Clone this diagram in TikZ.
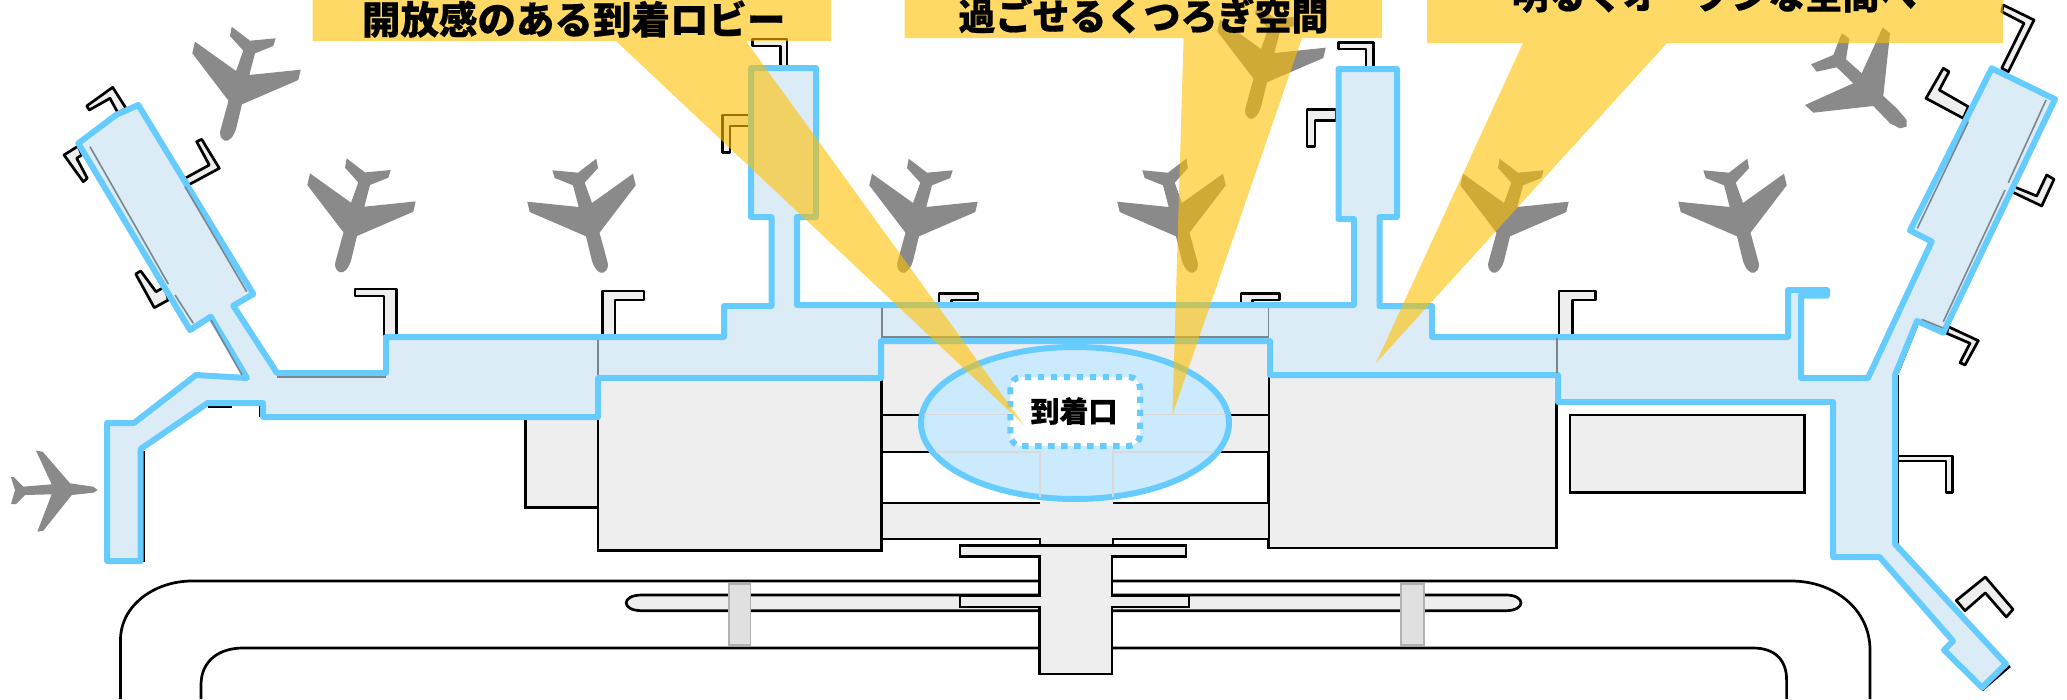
\documentclass[tikz,border=0pt]{standalone}
\usepackage{fontspec}
\newfontfamily\cjk[BoldFeatures={FakeBold=0.5}]{Noto Sans CJK JP}
\definecolor{bldg}{HTML}{EEEEEE}
\definecolor{bluestroke}{HTML}{66CCFF}
\definecolor{bluefill}{HTML}{DCECF7}
\definecolor{ellfill}{HTML}{CCEAFE}
\definecolor{planegray}{HTML}{8A8A8A}
\definecolor{gold}{HTML}{FFC000}
\definecolor{innerline}{HTML}{7C868C}
\newcommand{\planeoutline}{(1.2,48.3) .. controls (-1,56) and (-6,62.5) .. (-10.5,60.5) .. controls (-15,58.5) and (-15.5,53) .. (-14.5,50) -- (-6.5,20.7) -- (-42.7,-26.7) -- (-40,-38.3) -- (1,-9) -- (8.3,-29.3) -- (-5,-44) -- (-3.3,-53.3) -- (15,-39.3) -- (40.7,-41.7) -- (38.3,-34) -- (20,-26.7) -- (14.3,-5) -- (65.7,-10.3) -- (63.3,0) -- (7,24.3) -- cycle}
\tikzset{
  standbox/.style={draw=black,fill=bldg,line width=2.7pt,line join=round},
  bldgbox/.style={draw=black,fill=bldg,line width=2.7pt,line join=miter},
  blk/.style={draw=black,line width=2.7pt},
  roadline/.style={draw=black,line width=2.7pt},
  planeshape/.style={fill=planegray},
  pier/.style={draw=bluestroke,fill=bluefill,line width=6pt,line join=round},
  inner/.style={draw=innerline,line width=1.6pt},
  faint/.style={draw=black!15,line width=1.8pt},
  callout/.style={fill=gold,fill opacity=.6},
  bannertext/.style={font=\cjk\bfseries\fontsize{37}{37}\selectfont,text=black,anchor=base,inner sep=0pt},
}
\begin{document}
\begin{tikzpicture}[x=1pt,y=-1pt]
\useasboundingbox (0,0) rectangle (2067,699);
\clip (0,0) rectangle (2067,699);
% roads
\draw[roadline] (120.5,699) -- (120.5,640) .. controls (120.5,605) and (155,581) .. (192,581) -- (1791,581) .. controls (1835,581) and (1870,610) .. (1870,650) -- (1870,699);
\draw[roadline] (201,699) -- (201,685) .. controls (201,660) and (220,648) .. (243,648) -- (1753,648) .. controls (1775,648) and (1786.6,660) .. (1786.6,680) -- (1786.6,699);
% long strip
\draw[bldgbox] (641.7,595) -- (1506,595) .. controls (1526,595) and (1526,610.7) .. (1506,610.7) -- (641.7,610.7) .. controls (621,610.7) and (621,595) .. (641.7,595) -- cycle;
\draw[draw=black!30,fill=black!12,line width=1.3pt] (729,584) rectangle (750.7,645);
\draw[draw=black!30,fill=black!12,line width=1.3pt] (1401,584) rectangle (1424,645);
% buildings
\draw[bldgbox] (525.4,417) rectangle (598,507.6);
\draw[bldgbox] (598,378) rectangle (881.8,550.4);
\draw[bldgbox] (1268.4,377) rectangle (1556.7,548);
\draw[bldgbox] (1570,415) rectangle (1804.5,492.4);
\fill[bldg] (881.8,341) rectangle (1268.4,452);
\fill[bldg] (881.8,503) rectangle (1268.4,539);
\fill[bldg] (1040,452) rectangle (1113,545);
\draw[blk] (881.8,415) -- (1268.4,415);
\draw[blk] (881.8,452) -- (1268.4,452);
\draw[blk] (881.8,503) -- (1040,503);
\draw[blk] (1113,503) -- (1268.4,503);
\draw[blk] (881.8,539) -- (1040,539) -- (1040,546);
\draw[blk] (1268.4,539) -- (1113,539) -- (1113,546);
\draw[blk] (881.8,378) -- (881.8,550);
\draw[bldgbox] (960,545.5) -- (1186,545.5) -- (1186,556.7) -- (1112,556.7) -- (1112,596) -- (1189,596) -- (1189,607) -- (1112,607) -- (1112,674) -- (1039.4,674) -- (1039.4,607) -- (960,607) -- (960,596) -- (1039.4,596) -- (1039.4,556.7) -- (960,556.7) -- cycle;
% planes
\fill[planeshape,shift={(350,211.7)}] \planeoutline;
\fill[planeshape,shift={(235,80)}] \planeoutline;
\fill[planeshape,shift={(593,212)},xscale=-1] \planeoutline;
\fill[planeshape,shift={(912,212)}] \planeoutline;
\fill[planeshape,shift={(1183,212)},xscale=-1] \planeoutline;
\fill[planeshape,shift={(1503,212)}] \planeoutline;
\fill[planeshape,shift={(1744,212)},xscale=-1] \planeoutline;
\fill[planeshape,shift={(1260,58)}] \planeoutline;
\fill[planeshape] (1906.7,126.7) -- (1906.7,120) -- (1896.7,108.3) -- (1883.3,96) -- (1890,33.3) -- (1882.7,27.3) -- (1861.7,73.3) -- (1846,59.3) -- (1849.3,38.3) -- (1841.7,33.3) -- (1833.3,55) -- (1811,64.3) -- (1816.7,71.7) -- (1836.7,67.3) -- (1853.3,83.3) -- (1805,105) -- (1813.3,112.7) -- (1873.3,106) -- (1890,123.3) -- (1900,128.3) -- cycle;
\fill[planeshape] (97.7,490) -- (93.3,492.7) -- (71.7,495) -- (43.3,530.7) -- (37.3,531.7) -- (51.7,494.3) -- (25,495) -- (16,504) -- (11,504) -- (15,490) -- (11,477.3) -- (13.3,476.7) -- (23.3,486.7) -- (51.7,484.3) -- (36,450.7) -- (42.7,451.7) -- (70,483.3) -- (93.3,486.7) -- cycle;
% stands
\draw[standbox] (86.7,106) -- (112.7,87.3) -- (126,108.3) -- (118,113) -- (110,98.3) -- (89.3,110) -- cycle;
\draw[standbox] (196.7,141.7) -- (201.7,139.3) -- (219.3,168.3) -- (188.3,185) -- (185,178.3) -- (209.3,165) -- cycle;
\draw[standbox] (64,155) -- (78.3,146) -- (81.7,155) -- (76.7,158.3) -- (87.3,178.3) -- (83.3,181.7) -- cycle;
\draw[standbox] (135.7,274) -- (140.7,271) -- (156,291.7) -- (165,286.7) -- (168.3,300) -- (154.3,307.7) -- cycle;
\draw[standbox] (355,289) -- (396.4,289) -- (396.4,335) -- (384,335) -- (384,296) -- (355,296) -- cycle;
\draw[standbox] (602.7,291) -- (644,291) -- (644,300) -- (615,300) -- (615,335) -- (602.7,335) -- cycle;
\draw[standbox] (752.8,39) -- (787,39) -- (787,67) -- (780.5,67) -- (780.5,46) -- (752.8,46) -- cycle;
\draw[standbox] (722.4,115) -- (749,115) -- (749,126) -- (730,126) -- (730,152.7) -- (722.4,152.7) -- cycle;
\draw[standbox] (939,293.7) -- (978,293.7) -- (978,300) -- (951.4,300) -- (951.4,304) -- (939,304) -- cycle;
\draw[standbox] (1241,293.7) -- (1279.6,293.7) -- (1279.6,300) -- (1252.8,300) -- (1252.8,304) -- (1241,304) -- cycle;
\draw[standbox] (1338.5,42.4) -- (1373.3,42.4) -- (1373.3,69) -- (1366,69) -- (1366,49) -- (1338.5,49) -- cycle;
\draw[standbox] (1307,109.4) -- (1336,109.4) -- (1336,120.5) -- (1315,120.5) -- (1315,146.4) -- (1307,146.4) -- cycle;
\draw[standbox] (1559,291) -- (1595.6,291) -- (1595.6,300) -- (1572.4,300) -- (1572.4,335) -- (1559,335) -- cycle;
\draw[standbox] (2003.3,5) -- (2034,20) -- (2008.3,71.7) -- (2001.7,68.3) -- (2024,23.3) -- (2001.7,11.7) -- cycle;
\draw[standbox] (1943.3,68.3) -- (1949,71.7) -- (1939.3,90) -- (1968.3,106.7) -- (1963.3,118.3) -- (1926,98.3) -- cycle;
\draw[standbox] (2014,186.7) -- (2036.7,196) -- (2046.7,175) -- (2054,179.3) -- (2041.7,206) -- (2011.7,191.7) -- cycle;
\draw[standbox] (1948.3,326.7) -- (1978.3,340.7) -- (1965,365) -- (1960,362.7) -- (1970,343.3) -- (1946.7,333.3) -- cycle;
\draw[standbox] (1898,456) -- (1952.7,456) -- (1952.7,492.4) -- (1946,492.4) -- (1946,461) -- (1898,461) -- cycle;
\draw[standbox] (1956.3,600.4) -- (1985.3,577) -- (2013,609.4) -- (2006.3,617) -- (1985.3,592.9) -- (1965,610.7) -- cycle;
% black edges behind the concourse outline
\draw[blk] (1898,375) -- (1898,544);
\draw[blk] (1917,325) -- (1898,372);
\draw[blk] (2010,666) -- (1982,690);
\draw[blk] (143.7,451) -- (143.7,561) -- (107,561);
\draw[blk] (207.6,407) -- (232,407);
\draw[blk] (260,404) -- (260,417);
\draw[draw=black!50,fill=bldg,line width=1.4pt] (231,396) rectangle (261,402);
% concourse
\draw[pier] (107,423) -- (134,423) -- (196,375) -- (247,378) -- (210.7,316.7) -- (190,330) -- (78.3,143.3) -- (116,115) -- (138.3,105) -- (253.3,294) -- (233.3,305.7) -- (277,373) -- (386,373) -- (386,337) -- (724,337) -- (724,306) -- (771.5,306) -- (771.5,217) -- (751,217) -- (751,68) -- (816,68) -- (816,217) -- (797,217) -- (797,305) -- (1354,305) -- (1354,219) -- (1338.5,219) -- (1338.5,69) -- (1397,69) -- (1397,217) -- (1379.5,217) -- (1379.5,306) -- (1432,306) -- (1432,337) -- (1788,337) -- (1788,290) -- (1827,290) -- (1827,295.5) -- (1801,295.5) -- (1801,378) -- (1868,378) -- (1931.7,241.5) -- (1910,230.5) -- (1991.7,68.3) -- (2055,99.3) -- (1943.3,332.7) -- (1917,321) -- (1895,375) -- (1895,544) -- (2006,664) -- (1982,687.5) -- (1944,650) -- (1953,641) -- (1879.5,557) -- (1833,557) -- (1833,402) -- (1558,402) -- (1558,375) -- (1270,375) -- (1270,341) -- (881,341) -- (881,378) -- (598,378) -- (598,417) -- (263,417) -- (263,403) -- (207.6,403) -- (140.6,449) -- (140.6,561) -- (107,561) -- cycle;
% lines seen through the concourse
\draw[inner] (90,146.7) -- (168.3,284);
\draw[inner] (175,295) -- (193.3,323.3);
\draw[inner] (185,186.7) -- (246.7,291.7);
\draw[inner] (211,320) -- (242,375);
\draw[inner] (277,377) -- (386,377);
\draw[inner] (598,340) -- (598,375);
\draw[inner] (881.8,308) -- (881.8,337) -- (1268.4,337) -- (1268.4,308);
\draw[inner] (1556.7,338) -- (1556.7,373);
\draw[inner] (2046,100) -- (2008.3,182.7);
\draw[inner] (2005,190) -- (1943.3,321.7);
\draw[inner] (1968.3,121.7) -- (1917.3,228.3);
\draw[inner] (1921.7,319.3) -- (1943,328);
% arrival hall
\draw[draw=bluestroke,fill=ellfill,line width=6pt] (1075,423) ellipse [x radius=154,y radius=76];
\draw[faint] (924,414.5) -- (1012,414.5);
\draw[faint] (1138,414.5) -- (1226,414.5);
\draw[faint] (936,451.7) -- (1040,451.7) -- (1040,497);
\draw[faint] (1214,451.7) -- (1113,451.7) -- (1113,497);
\draw[draw=bluestroke,fill=white,line width=6pt,dash pattern=on 6.3pt off 6.7pt,rounded corners=11pt] (1010.4,377) rectangle (1140,446);
\node[font=\cjk\bfseries\fontsize{29}{29}\selectfont,inner sep=0pt] (arrival) at (1074,411) {到着口};
% call-outs
\fill[callout] (312.5,-2) -- (831,-2) -- (831,41) -- (746,41) -- (1024,425) -- (616,41) -- (312.5,41) -- cycle;
\fill[callout] (904.5,-2) -- (1382,-2) -- (1382,38) -- (1302,38) -- (1172.4,415) -- (1183.6,38) -- (904.5,38) -- cycle;
\fill[callout] (1427,-2) -- (2003,-2) -- (2003,43) -- (1667,43) -- (1376,363) -- (1523,43) -- (1427,43) -- cycle;
\node[bannertext,font=\cjk\bfseries\fontsize{38.5}{38.5}\selectfont] (lobby) at (573.7,34) {開放感のある到着ロビー};
\node[bannertext] (rest) at (1143.5,30) {過ごせるくつろぎ空間};
\node[bannertext] (open) at (1714,9) {明るくオープンな空間へ};
\end{tikzpicture}
\end{document}
